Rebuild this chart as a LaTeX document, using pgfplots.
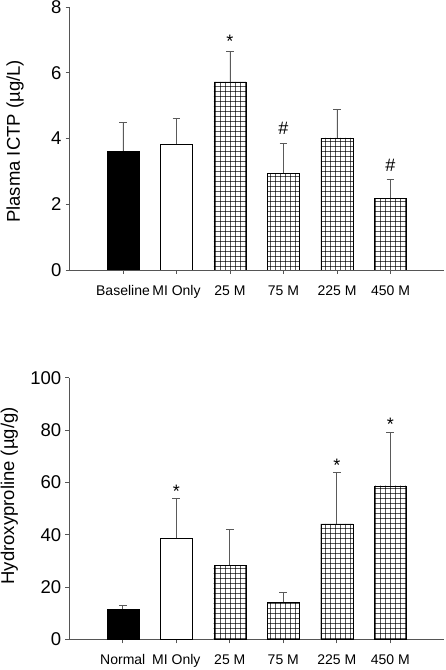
\documentclass[border=0pt]{standalone}
\usepackage{fontspec}
\setmainfont{Liberation Sans}
\usepackage{pgfplots}
\pgfplotsset{compat=1.18}
\usetikzlibrary{patterns.meta}
\definecolor{axgray}{HTML}{555555}
\definecolor{errgray}{HTML}{5A5A5A}
\pgfplotsset{
  mystyle/.style={
    scale only axis, width=374.5pt,
    axis x line*=bottom, axis y line*=left,
    axis line style={axgray, line width=0.7pt},
    xmin=-1, xmax=6,
    xtick={0,...,5},
    tick style={axgray, line width=0.7pt},
    major tick length=4pt,
    tick align=outside,
    /pgf/number format/assume math mode=true,
    yticklabel style={font=\fontsize{18.5}{20}\selectfont, xshift=-0.5pt},
    xticklabel style={font=\fontsize{14}{16}\selectfont, yshift=-7pt,
      text height=10.5pt, text depth=3pt},
    ylabel style={font=\fontsize{18.5}{20}\selectfont, anchor=center},
    bar width=0.6,
    error bars/error bar style={errgray, line width=0.7pt},
    error bars/error mark options={rotate=90, mark size=3.8pt, errgray, line width=0.7pt},
  },
  annot/.style={draw=none, nodes near coords, point meta=explicit symbolic,
    every node near coord/.append style={anchor=center, font=\fontsize{18}{19}\selectfont}},
}
\begin{document}
\begin{tikzpicture}
\path[use as bounding box] (0,0) rectangle (445pt,670pt);
% Top chart
\begin{axis}[mystyle, at={(69.5pt,400pt)}, anchor=south west, height=263pt,
  ymin=0, ymax=8, ytick={0,2,...,8},
  xticklabels={Baseline, MI Only, 25 M, 75 M, 225 M, 450 M},
  ylabel={Plasma ICTP (µg/L)},
  ylabel style={at={(axis description cs:-0.1455,0.4886)}},
]
\addplot[ybar, bar shift=0pt, fill=black, draw=black,
  error bars/.cd, y dir=plus, y explicit]
  coordinates {(0,3.62) +- (0,0.88)};
\addplot[ybar, bar shift=0pt, fill=white, draw=black,
  error bars/.cd, y dir=plus, y explicit]
  coordinates {(1,3.83) +- (0,0.79)};
\addplot[ybar, bar shift=0pt, draw=black, fill=white,
  postaction={pattern={Hatch[angle=0, distance=5.4pt, line width=0.6pt]}},
  error bars/.cd, y dir=plus, y explicit]
  coordinates {(2,5.72) +- (0,0.94) (3,2.94) +- (0,0.92) (4,4.02) +- (0,0.88) (5,2.18) +- (0,0.58)};
\addplot[annot] coordinates {(2,6.95) [*] (3,4.3) [\#] (5,3.17) [\#]};
\end{axis}
% Bottom chart
\begin{axis}[mystyle, at={(69.3pt,30.7pt)}, anchor=south west, height=261.6pt,
  ymin=0, ymax=100, ytick={0,20,...,100},
  xticklabels={Normal, MI Only, 25 M, 75 M, 225 M, 450 M},
  ylabel={Hydroxyproline (µg/g)},
  ylabel style={at={(axis description cs:-0.160,0.548)}},
]
\addplot[ybar, bar shift=0pt, fill=black, draw=black,
  error bars/.cd, y dir=plus, y explicit]
  coordinates {(0,11.5) +- (0,1.5)};
\addplot[ybar, bar shift=0pt, fill=white, draw=black,
  error bars/.cd, y dir=plus, y explicit]
  coordinates {(1,38.6) +- (0,15.3)};
\addplot[ybar, bar shift=0pt, draw=black, fill=white,
  postaction={pattern={Hatch[angle=0, distance=5.4pt, line width=0.6pt]}},
  error bars/.cd, y dir=plus, y explicit]
  coordinates {(2,28.4) +- (0,13.6) (3,14.1) +- (0,3.9) (4,44.1) +- (0,19.7) (5,58.7) +- (0,20.4)};
\addplot[annot] coordinates {(1,56.5) [*] (4,66.5) [*] (5,82) [*]};
\end{axis}
\end{tikzpicture}
\end{document}
